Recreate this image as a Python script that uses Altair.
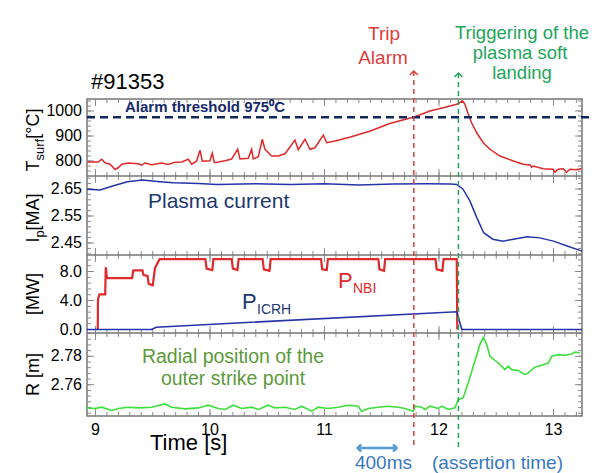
import altair as alt
import numpy as np
import pandas as pd

FONT = "Liberation Sans"
W = 495
HEIGHTS = [77, 79, 78, 83]
TOPS = [0, 77, 156, 234]
HTOT = sum(HEIGHTS)
X_DOMAIN = [8.926, 13.249]

# event times [s]
TRIP_T = 11.78
SOFT_T = 12.17
ARROW_400 = [11.29, 11.63]
THRESHOLD = 975

# ---------------- data ----------------
t_T = [8.93, 9.025, 9.054, 9.083, 9.127, 9.170, 9.199, 9.229, 9.287, 9.374, 9.403, 9.432,
       9.491, 9.578, 9.636, 9.694, 9.753, 9.811, 9.840, 9.884, 9.913, 9.933, 10.0, 10.02,
       10.038, 10.131, 10.189, 10.242, 10.262, 10.335, 10.364, 10.378, 10.422, 10.457, 10.48,
       10.539, 10.597, 10.655, 10.684, 10.742, 10.771, 10.83, 10.873, 10.917, 10.99, 11.019,
       11.092, 11.22, 11.40, 11.57, 11.79, 11.92, 12.038, 12.154, 12.207, 12.227, 12.256,
       12.285, 12.329, 12.387, 12.445, 12.533, 12.649, 12.736, 12.795, 12.809, 12.823, 12.911,
       12.998, 13.013, 13.04, 13.085, 13.114, 13.143, 13.201, 13.245]
T_surf = [796, 796, 807, 793, 787, 767, 773, 787, 792, 789, 783, 792,
          785, 792, 786, 795, 796, 807, 787, 800, 843, 799, 801, 831,
          793, 801, 808, 847, 808, 811, 847, 808, 817, 887, 847,
          820, 820, 829, 847, 884, 845, 887, 847, 853, 904, 873,
          880, 895, 920, 950, 977, 1000, 1013, 1027, 1040, 1027, 987,
          953, 913, 873, 847, 820, 800, 787, 784, 775, 780, 769,
          767, 755, 767, 769, 755, 767, 765, 770]

t_Ip = [8.926, 9.04, 9.15, 9.28, 9.41, 9.56, 9.68, 9.9, 10.06, 10.4, 10.7, 11.0, 11.3,
        11.6, 11.9, 12.1, 12.155, 12.21, 12.27, 12.33, 12.39, 12.47, 12.56, 12.65, 12.77,
        12.88, 13.0, 13.12, 13.249]
Ip = [2.649, 2.646, 2.661, 2.677, 2.683, 2.677, 2.673, 2.670, 2.667, 2.669, 2.667, 2.669,
      2.665, 2.668, 2.669, 2.668, 2.667, 2.649, 2.606, 2.544, 2.488, 2.464, 2.457, 2.464,
      2.473, 2.469, 2.457, 2.439, 2.420]

t_nbi = [9.02, 9.022, 9.035, 9.085, 9.09, 9.10, 9.32, 9.33, 9.41, 9.42, 9.455,
         9.465, 9.50, 9.52, 9.56, 9.96, 9.97, 10.02, 10.03, 10.19, 10.20, 10.24, 10.25,
         10.46, 10.47, 10.52, 10.53, 10.97, 10.98, 11.02, 11.03, 11.47, 11.48, 11.52, 11.53,
         11.97, 11.98, 12.03, 12.04, 12.155, 12.16]
P_nbi = [0, 4.2, 4.85, 4.85, 8.6, 7.1, 7.1, 8.15, 8.15, 7.5, 7.4,
         6.3, 6.1, 8.5, 9.7, 9.7, 8.4, 8.2, 9.7, 9.7, 8.4, 8.2, 9.7,
         9.7, 8.3, 8.1, 9.7, 9.7, 8.3, 8.2, 9.7, 9.7, 8.3, 8.1, 9.7,
         9.7, 8.3, 8.1, 9.7, 9.7, 0]

t_icrh = [8.926, 9.49, 9.53, 12.155, 12.20, 13.249]
P_icrh = [0, 0, 0.32, 2.45, 0, 0]

t_R = [8.926, 8.996, 9.054, 9.141, 9.199, 9.287, 9.374, 9.49, 9.607, 9.665, 9.782, 9.898,
       9.985, 10.073, 10.131, 10.204, 10.277, 10.364, 10.422, 10.509, 10.568, 10.655,
       10.742, 10.8, 10.888, 10.946, 11.033, 11.12, 11.208, 11.295, 11.324, 11.383, 11.47,
       11.557, 11.645, 11.703, 11.776, 11.79, 11.848, 11.878, 11.921, 11.994, 12.023,
       12.081, 12.14, 12.169, 12.211, 12.255, 12.313, 12.357, 12.387, 12.417, 12.445,
       12.518, 12.576, 12.605, 12.635, 12.693, 12.751, 12.78, 12.838, 12.896, 12.955,
       12.984, 13.042, 13.1, 13.159, 13.188, 13.23]
R = [2.7437, 2.7433, 2.7442, 2.7419, 2.7433, 2.7442, 2.7437, 2.7442, 2.7465, 2.7442,
     2.7430, 2.7437, 2.7456, 2.7433, 2.7426, 2.7456, 2.7433, 2.7442, 2.7426, 2.7456,
     2.7437, 2.7442, 2.7426, 2.7449, 2.7414, 2.7442, 2.7433, 2.7442, 2.7456, 2.7449,
     2.7414, 2.7433, 2.7442, 2.7449, 2.7442, 2.7433, 2.7414, 2.7449, 2.7442, 2.7426,
     2.7449, 2.7433, 2.7449, 2.7426, 2.7437, 2.7496, 2.7507, 2.7613, 2.7765, 2.7882,
     2.7933, 2.7882, 2.7800, 2.7753, 2.7706, 2.7730, 2.7706, 2.7700, 2.7671, 2.7683,
     2.7723, 2.7737, 2.7753, 2.7800, 2.7812, 2.7807, 2.7816, 2.7830, 2.7823]

# axis tick labels
x_labels = [9, 10, 11, 12, 13]
T_labels = [800, 900, 1000]
Ip_labels = [2.45, 2.55, 2.65]
P_labels = [0, 4, 8]
R_labels = [2.76, 2.78]

# minor tick marks
x_minor = list(np.round(np.arange(9.0, 13.21, 0.1), 2))
T_minor = list(range(760, 1041, 20))
Ip_minor = list(np.round(np.arange(2.41, 2.691, 0.02), 3))
P_minor = list(np.round(np.arange(0.0, 9.61, 0.8), 2))
R_minor = list(np.round(np.arange(2.740, 2.7961, 0.004), 3))

# ---------------- styles ----------------
RED = "#e0292b"
BLUE = "#2633a8"
GREEN = "#3ddf3a"
NAVY_TXT = "#1d3870"
RED_EV = "#e03c3c"
GREEN_EV = "#22a55a"
OLIVE = "#5b9a3a"
BLUE_TXT = "#3878bd"
TICK = "#8a8a8a"
FRAME = "#757575"

xs = alt.Scale(domain=X_DOMAIN, nice=False, zero=False)
one = pd.DataFrame({"k": [0]})


def yscale(dom, i):
    top, h = TOPS[i], HEIGHTS[i]
    return alt.Scale(domain=dom, range=[top + h, top], nice=False, zero=False)


def series(t, v, ys, color, width=1.4):
    df = pd.DataFrame({"t": t, "v": v})
    return alt.Chart(df).mark_line(color=color, strokeWidth=width).encode(
        x=alt.X("t:Q", scale=xs, axis=None),
        y=alt.Y("v:Q", scale=ys, axis=None))


def ylabels(values, fmt, ys):
    d = pd.DataFrame({"v": values, "lab": [format(v, fmt) for v in values]})
    return alt.Chart(d).mark_text(align="right", baseline="middle", font=FONT,
                                  fontSize=16, color="black").encode(
        y=alt.Y("v:Q", scale=ys, axis=None), x=alt.value(-5), text="lab:N")


def xlabels():
    d = pd.DataFrame({"t": x_labels, "lab": [str(v) for v in x_labels]})
    return alt.Chart(d).mark_text(align="center", baseline="alphabetic", font=FONT,
                                  fontSize=16, color="black").encode(
        x=alt.X("t:Q", scale=xs, axis=None), y=alt.value(HTOT + 19), text="lab:N")


def tick_layers(yminor, ymajor, ys, i):
    top, h = TOPS[i], HEIGHTS[i]
    out = []
    for vals, ln in [(yminor, 4), (ymajor, 7)]:
        d = pd.DataFrame({"v": vals})
        out.append(alt.Chart(d).mark_rule(color=TICK, strokeWidth=1).encode(
            y=alt.Y("v:Q", scale=ys, axis=None), x=alt.value(0), x2=alt.value(ln)))
        out.append(alt.Chart(d).mark_rule(color=TICK, strokeWidth=1).encode(
            y=alt.Y("v:Q", scale=ys, axis=None), x=alt.value(W - ln), x2=alt.value(W)))
    for vals, ln in [(x_minor, 4), (x_labels, 7)]:
        d = pd.DataFrame({"t": vals})
        out.append(alt.Chart(d).mark_rule(color=TICK, strokeWidth=1).encode(
            x=alt.X("t:Q", scale=xs, axis=None), y=alt.value(top), y2=alt.value(top + ln)))
        out.append(alt.Chart(d).mark_rule(color=TICK, strokeWidth=1).encode(
            x=alt.X("t:Q", scale=xs, axis=None), y=alt.value(top + h - ln),
            y2=alt.value(top + h)))
    return out


def events():
    out = []
    for t, c, top, bot in [(TRIP_T, RED_EV, -28, HTOT + 33),
                           (SOFT_T, GREEN_EV, -26, HTOT + 35)]:
        out.append(alt.Chart(pd.DataFrame({"t": [t]})).mark_rule(
            color=c, strokeWidth=1.5, strokeDash=[5, 4]).encode(
            x=alt.X("t:Q", scale=xs, axis=None), y=alt.value(top), y2=alt.value(bot)))
    return out


def label(text, x, y, size, color, align="left", weight="normal"):
    return alt.Chart(one).mark_text(align=align, baseline="alphabetic", font=FONT,
                                    fontSize=size, color=color, fontWeight=weight).encode(
        x=alt.value(x), y=alt.value(y), text=alt.value(text))


ARIAL = {" ": 278, "[": 278, "]": 278, "°": 400, "C": 722, "T": 611, "s": 500, "u": 556,
         "r": 333, "f": 278, "I": 278, "p": 556, "M": 833, "A": 667, "W": 944, "R": 722,
         "m": 833}


def ytitle(parts, i):
    yc = TOPS[i] + HEIGHTS[i] / 2
    sizes = [13 if sub else 18 for _, sub in parts]
    widths = [sum(ARIAL[c] for c in t) * s / 1000 for (t, _), s in zip(parts, sizes)]
    off = -sum(widths) / 2
    out = []
    for (t, sub), s, w in zip(parts, sizes, widths):
        out.append(alt.Chart(one).mark_text(
            angle=270, align="left", baseline="alphabetic", font=FONT, fontSize=s,
            color="black", dx=off, dy=5 if sub else 0).encode(
            x=alt.value(-48), y=alt.value(yc), text=alt.value(t)))
        off += w
    return out


def arrowhead(t, y, color, shape, width=1.5, size=64):
    return alt.Chart(pd.DataFrame({"t": [t]})).mark_point(
        shape=shape, filled=False, size=size, color=color, strokeWidth=width, opacity=1).encode(
        x=alt.X("t:Q", scale=xs, axis=None), y=alt.value(y))


separators = [alt.Chart(one).mark_rule(color=FRAME, strokeWidth=1.5).encode(
    x=alt.value(0), x2=alt.value(W), y=alt.value(b)) for b in TOPS[1:]]

# ---------------- panel 1: surface temperature ----------------
ys1 = yscale([740, 1048], 0)
p1 = [
    *tick_layers(T_minor, T_labels, ys1, 0),
    series(t_T, T_surf, ys1, RED, 1.5),
    ylabels(T_labels, "d", ys1),
    alt.Chart(pd.DataFrame({"v": [THRESHOLD]})).mark_rule(
        color="#12265c", strokeWidth=2.5, strokeDash=[8, 5]).encode(
        y=alt.Y("v:Q", scale=ys1, axis=None), x=alt.value(0), x2=alt.value(W + 10)),
    label("#91353", 4, -10, 22, "black"),
    label("Alarm threshold 975⁰C", 38, 13, 15, "#16296a", weight="bold"),
    label("Trip", 297, -59, 19, RED_EV, align="center"),
    label("Alarm", 296, -35, 19, RED_EV, align="center"),
    label("Triggering of  the", 435, -60, 18.5, GREEN_EV, align="center"),
    label("plasma soft", 433, -40, 18.5, GREEN_EV, align="center"),
    label("landing", 435, -20, 18.5, GREEN_EV, align="center"),
    *ytitle([("T", False), ("surf", True), (" [°C]", False)], 0),
]

# ---------------- panel 2: plasma current ----------------
ys2 = yscale([2.4056, 2.698], 1)
p2 = [
    *tick_layers(Ip_minor, Ip_labels, ys2, 1),
    series(t_Ip, Ip, ys2, BLUE, 1.5),
    ylabels(Ip_labels, ".2f", ys2),
    label("Plasma current", 61, TOPS[1] + 32, 21, NAVY_TXT),
    *ytitle([("I", False), ("p", True), (" [MA]", False)], 1),
]

# ---------------- panel 3: heating power ----------------
ys3 = yscale([-0.48, 10.28], 2)
p3 = [
    *tick_layers(P_minor, P_labels, ys3, 2),
    series(t_nbi, P_nbi, ys3, RED, 2.2),
    series(t_icrh, P_icrh, ys3, BLUE, 1.6),
    ylabels(P_labels, ".1f", ys3),
    label("P", 251, TOPS[2] + 33, 22, RED),
    label("NBI", 266, TOPS[2] + 38, 14, RED),
    label("P", 155, TOPS[2] + 54, 22, NAVY_TXT),
    label("ICRH", 170, TOPS[2] + 59, 14, NAVY_TXT),
    *ytitle([("[MW]", False)], 2),
]

# ---------------- panel 4: strike point position ----------------
ys4 = yscale([2.738, 2.7964], 3)
p4 = [
    *tick_layers(R_minor, R_labels, ys4, 3),
    series(t_R, R, ys4, GREEN, 1.6),
    ylabels(R_labels, ".2f", ys4),
    label("Radial position of the", 146, TOPS[3] + 30, 19.5, OLIVE, align="center"),
    label("outer strike point", 146, TOPS[3] + 52, 19.5, OLIVE, align="center"),
    *ytitle([("R [m]", False)], 3),
]

# ---------------- bottom annotations ----------------
bottom = [
    xlabels(),
    label("Time [s]", 63, HTOT + 34, 22, "black"),
    alt.Chart(pd.DataFrame({"t": [ARROW_400[0]], "t2": [ARROW_400[1]]})).mark_rule(
        color="#5b9bd5", strokeWidth=2.5).encode(
        x=alt.X("t:Q", scale=xs, axis=None), x2="t2:Q", y=alt.value(HTOT + 32)),
    arrowhead(ARROW_400[0], HTOT + 32, "#5b9bd5", "M1,-1L0,0L1,1", 2.5, 49),
    arrowhead(ARROW_400[1], HTOT + 32, "#5b9bd5", "M-1,-1L0,0L-1,1", 2.5, 49),
    label("400ms", 296.5, HTOT + 53, 19, BLUE_TXT, align="center"),
    label("(assertion time)", 410.5, HTOT + 53, 19, BLUE_TXT, align="center"),
]

overlay = [
    *events(),
    arrowhead(TRIP_T, -28, RED_EV, "M-1,1L0,0L1,1"),
    arrowhead(SOFT_T, -26, GREEN_EV, "M-1,1L0,0L1,1"),
]

chart = alt.layer(*p1, *p2, *p3, *p4, *separators, *overlay, *bottom).resolve_scale(
    y="independent"
).properties(
    width=W, height=HTOT,
    padding={"left": 25, "top": 24, "right": 0, "bottom": 0},
    background="white",
).configure_view(stroke=FRAME, strokeWidth=1.5)

chart.save("out.html", embed_options={"renderer": "svg", "actions": False})
